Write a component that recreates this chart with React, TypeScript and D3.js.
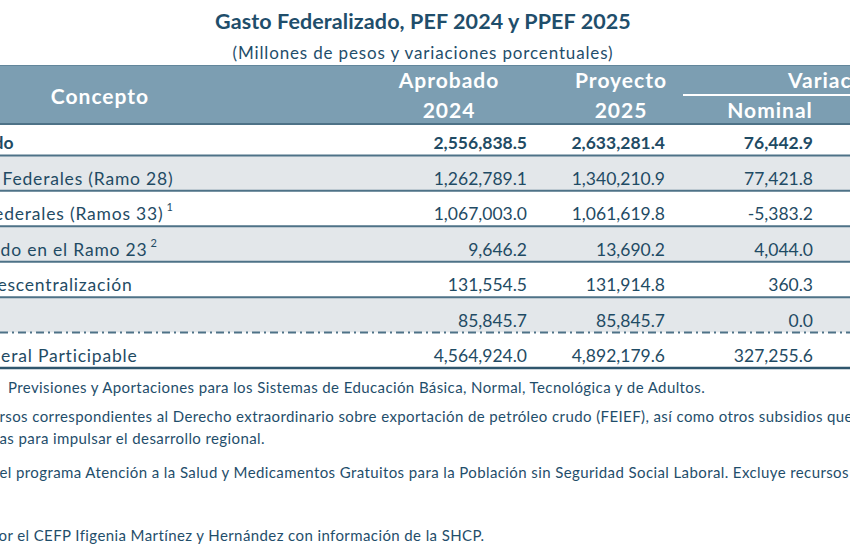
import React from "react";
import * as d3 from "d3";

// ---- data ----
const title = "Gasto Federalizado, PEF 2024 y PPEF 2025";
const subtitle = "(Millones de pesos y variaciones porcentuales)";
const concepts = [
  "Gasto Federalizado",
  "Participaciones Federales (Ramo 28)",
  "Aportaciones Federales (Ramos 33)",
  "Gasto Federalizado en el Ramo 23",
  "Convenios de Descentralización",
  "Salud",
  "Recaudación Federal Participable",
];
const conceptNotes = ["", "", "1", "2", "", "3", ""];
const aprobado2024 = [2556838.5, 1262789.1, 1067003.0, 9646.2, 131554.5, 85845.7, 4564924.0];
const proyecto2025 = [2633281.4, 1340210.9, 1061619.8, 13690.2, 131914.8, 85845.7, 4892179.6];
const variacionNominal = [76442.9, 77421.8, -5383.2, 4044.0, 360.3, 0.0, 327255.6];
const footnotes = [
  "Previsiones y Aportaciones para los Sistemas de Educación Básica, Normal, Tecnológica y de Adultos.",
  "rsos correspondientes al Derecho extraordinario sobre exportación de petróleo crudo (FEIEF), así como otros subsidios que se",
  "as para impulsar el desarrollo regional.",
  "el programa Atención a la Salud y Medicamentos Gratuitos para la Población sin Seguridad Social Laboral. Excluye recursos",
  "or el CEFP Ifigenia Martínez y Hernández con información de la SHCP.",
];

const W = 850;
const H = 550;
const FONT = "Lato, 'Open Sans', sans-serif";
const DARK = "#1f4b64";
const HEAD_BG = "#7c9eb2";
const GREY = "#e3e7ea";
const LINE = "#4e7287";

export default function App() {
  const rowIdx = d3.range(concepts.length);
  const y = d3.scaleBand<number>().domain(rowIdx).range([120, 368]).paddingInner(0);
  const cols = ["aprobado", "proyecto", "nominal"];
  const colRight = d3.scaleOrdinal<string, number>().domain(cols).range([527, 665, 813]);
  const colCenter = d3.scaleOrdinal<string, number>().domain(cols).range([449, 621, 770]);
  const values: Record<string, number[]> = {
    aprobado: aprobado2024,
    proyecto: proyecto2025,
    nominal: variacionNominal,
  };
  const fmt = d3.format(",.1f");
  const fmtVal = (v: number) => fmt(v).replace("−", "-");

  // layout: right edge of each (left-clipped) concept label
  const labelEnd = [13.5, 173.5, 163.5, 147.5, 132.5, -30, 137.5];
  const footY = [393, 422, 444, 478, 541];
  const footX = [8, -0.5, -0.5, -0.5, -1.5];

  return (
    <div style={{ position: "absolute", left: 0, top: 0 }}>
      <svg width={W} height={H} style={{ display: "block", overflow: "hidden", background: "#fff" }} fontFamily={FONT}>
        {/* title */}
        <text x={423} y={29} textAnchor="middle" fontSize={21.5} fontWeight={700} fill="#1f4e6b" letterSpacing={0.1}>
          {title}
        </text>
        <text x={423} y={59} textAnchor="middle" fontSize={17} fill="#1f4e6b" letterSpacing={0.85}>
          {subtitle}
        </text>

        {/* row backgrounds */}
        {rowIdx.map((i) => (
          <rect key={"bg" + i} x={0} y={y(i)!} width={W} height={y.bandwidth()} fill={i % 2 === 1 ? GREY : "#ffffff"} />
        ))}

        {/* header */}
        <rect x={0} y={65} width={W} height={59} fill={HEAD_BG} />
        <line x1={0} x2={W} y1={65.5} y2={65.5} stroke="#62869b" strokeWidth={1} />
        <line x1={0} x2={W} y1={124} y2={124} stroke={LINE} strokeWidth={2} />
        <g fill="#ffffff" fontWeight={700} fontSize={21} letterSpacing={1}>
          <text x={100} y={104} textAnchor="middle">Concepto</text>
          <text x={colCenter("aprobado")} y={88} textAnchor="middle">Aprobado</text>
          <text x={colCenter("aprobado")} y={118} textAnchor="middle">2024</text>
          <text x={colCenter("proyecto")} y={88} textAnchor="middle">Proyecto</text>
          <text x={colCenter("proyecto")} y={118} textAnchor="middle">2025</text>
          <text x={788} y={88} textAnchor="start">Variación</text>
          <text x={colCenter("nominal")} y={118} textAnchor="middle">Nominal</text>
        </g>
        <line x1={683} x2={W} y1={95} y2={95} stroke="#ffffff" strokeWidth={2} />

        {/* row separators */}
        {rowIdx.slice(0, -1).map((i) => {
          const yy = y(i)! + y.bandwidth();
          const dashed = i === concepts.length - 2;
          return (
            <line
              key={"ln" + i}
              x1={0}
              x2={W}
              y1={yy}
              y2={yy}
              stroke={LINE}
              strokeWidth={2}
              strokeDasharray={dashed ? "8,4,2,4" : undefined}
            />
          );
        })}
        <line x1={0} x2={W} y1={368} y2={368} stroke="#2f566d" strokeWidth={2.5} />

        {/* row labels */}
        {rowIdx.map((i) => {
          const base = y(i)! + y.bandwidth() - 6;
          const isTotal = i === 0;
          return (
            <g key={"lb" + i}>
              <text
                x={labelEnd[i]}
                y={base}
                textAnchor="end"
                fontSize={17.5}
                fontWeight={isTotal ? 700 : 400}
                letterSpacing={isTotal ? 0 : 0.8}
                fill={DARK}
              >
                {concepts[i]}
              </text>
              {conceptNotes[i] ? (
                <text x={labelEnd[i] + 3} y={base - 9} fontSize={11} fill={DARK}>
                  {conceptNotes[i]}
                </text>
              ) : null}
            </g>
          );
        })}

        {/* values */}
        {cols.map((c) =>
          rowIdx.map((i) => (
            <text
              key={c + i}
              x={colRight(c)}
              y={y(i)! + y.bandwidth() - 6}
              textAnchor="end"
              fontSize={17.5}
              fontWeight={i === 0 ? 700 : 400}
              fill={DARK}
            >
              {fmtVal(values[c][i])}
            </text>
          ))
        )}

        {/* footnotes */}
        {footnotes.map((t, i) => (
          <text key={"fn" + i} x={footX[i]} y={footY[i]} fontSize={15} fill="#1f4e6b" letterSpacing={0.4}>
            {t}
          </text>
        ))}
      </svg>
    </div>
  );
}
